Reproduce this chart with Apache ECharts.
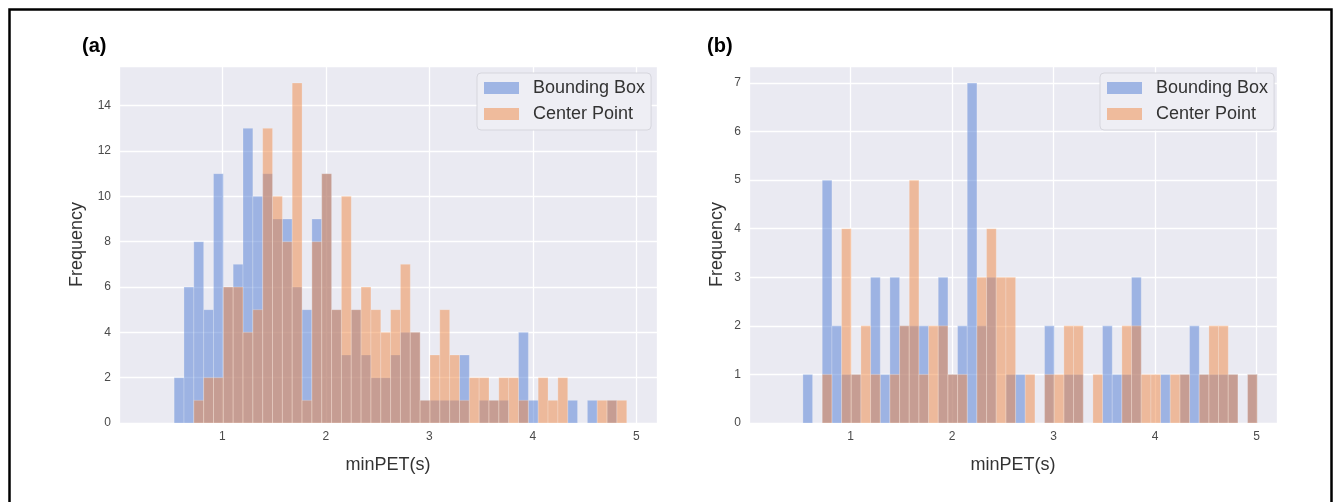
<!DOCTYPE html>
<html>
<head>
<meta charset="utf-8">
<script src="https://cdn.jsdelivr.net/npm/echarts@6/dist/echarts.min.js"></script>
<style>
html,body{margin:0;padding:0;background:#fff;}
#chart{width:1336px;height:502px;}
</style>
</head>
<body>
<div id="chart"></div>
<script>
// ---------- data ----------
const seriesNames = ['Bounding Box', 'Center Point'];
const xTickLabels = [1, 2, 3, 4, 5];
const yTicksA = [0, 2, 4, 6, 8, 10, 12, 14];
const yTicksB = [0, 1, 2, 3, 4, 5, 6, 7];

// panel (a) histogram: first bin edge, bin width (minPET seconds), counts per bin
const binStartA = 0.533;
const binWidthA = 0.0951;
const boundingBoxA = [2,6,8,5,11,6,7,13,10,11,9,9,6,5,9,11,5,3,5,3,2,2,3,4,4,1,1,1,1,3,0,1,1,1,0,4,1,0,0,0,1,0,1,0,1,0];
const centerPointA = [0,0,1,2,2,6,6,4,5,13,10,8,15,1,8,11,5,10,5,6,5,4,5,7,4,1,3,5,3,1,2,2,1,2,2,1,0,2,1,2,0,0,0,1,1,1];

// panel (b)
const binStartB = 0.531;
const binWidthB = 0.0952;
const boundingBoxB = [1,0,5,2,1,1,0,3,1,3,2,2,2,0,3,1,2,7,2,3,0,1,1,0,0,2,0,1,1,0,0,2,1,1,3,0,0,1,0,1,2,1,1,1,1,0,1];
const centerPointB = [0,0,1,0,4,1,2,1,0,1,2,5,1,2,2,1,1,0,3,4,3,3,0,1,0,1,1,2,2,0,1,0,0,2,2,1,1,0,1,1,0,1,2,2,1,0,1];

// ---------- helpers ----------
const BLUE = 'rgba(80,124,212,0.5)';
const ORANGE = 'rgba(240,136,68,0.5)';
const FONT = '"Liberation Sans", Arial, sans-serif';

function toBins(start, width, counts) {
  return counts.map((c, i) => [start + i * width, start + (i + 1) * width, c]);
}

function histSeries(name, idx, start, width, counts, color) {
  return {
    type: 'custom',
    name: name,
    xAxisIndex: idx,
    yAxisIndex: idx,
    itemStyle: { color: color },
    encode: { x: [0, 1], y: 2 },
    data: toBins(start, width, counts),
    renderItem: function (params, api) {
      const v = api.value(2);
      if (!v) return null;
      const p0 = api.coord([api.value(0), v]);
      const p1 = api.coord([api.value(1), 0]);
      return {
        type: 'rect',
        shape: { x: p0[0], y: p0[1], width: p1[0] - p0[0], height: p1[1] - p0[1] },
        style: { fill: color, stroke: 'rgba(255,255,255,0.35)', lineWidth: 0.6 }
      };
    }
  };
}

const tickFont = { color: '#4a4a4a', fontSize: 12, fontFamily: FONT };
const nameFont = { color: '#333', fontSize: 18, fontFamily: FONT };

function xAxis(idx) {
  return {
    type: 'value', gridIndex: idx, min: 0, max: 5.2, interval: 1,
    name: 'minPET(s)', nameLocation: 'middle', nameGap: 33, nameTextStyle: nameFont,
    axisLine: { show: false }, axisTick: { show: false },
    axisLabel: Object.assign({ margin: 8, formatter: v => xTickLabels.includes(v) ? String(v) : '' }, tickFont),
    splitLine: { show: true, lineStyle: { color: '#fff', width: 1.3 } }
  };
}
function yAxis(idx, max, interval, ticks, gap) {
  return {
    type: 'value', gridIndex: idx, min: 0, max: max, interval: interval,
    name: 'Frequency', nameLocation: 'middle', nameGap: gap, nameTextStyle: nameFont,
    axisLine: { show: false }, axisTick: { show: false },
    axisLabel: Object.assign({ margin: 8, formatter: v => ticks.includes(v) ? String(v) : '' }, tickFont),
    splitLine: { show: true, lineStyle: { color: '#fff', width: 1.3 } }
  };
}
function legend(left) {
  return {
    data: seriesNames, left: left, top: 73, orient: 'vertical',
    icon: 'rect', itemWidth: 35, itemHeight: 12, itemGap: 8,
    padding: [6, 6, 7, 7],
    backgroundColor: '#EEEEF4', borderColor: '#D6D6DD', borderWidth: 1, borderRadius: 4,
    selectedMode: false,
    textStyle: { color: '#333', fontSize: 18, lineHeight: 18, fontFamily: FONT, padding: [0, 0, 0, 9] }
  };
}

const chart = echarts.init(document.getElementById('chart'), null, { renderer: 'canvas' });
chart.setOption({
  animation: false,
  backgroundColor: '#fff',
  grid: [
    { left: 119, top: 66, width: 538, height: 357, show: true, backgroundColor: '#EAEAF2', borderWidth: 0 },
    { left: 749, top: 66, width: 528, height: 357, show: true, backgroundColor: '#EAEAF2', borderWidth: 0 }
  ],
  xAxis: [xAxis(0), xAxis(1)],
  yAxis: [yAxis(0, 15.75, 2, yTicksA, 33), yAxis(1, 7.35, 1, yTicksB, 23)],
  legend: [legend(477), legend(1100)],
  graphic: [
    { type: 'rect', left: 7, top: 7, shape: { width: 1322, height: 600 }, style: { fill: 'none', stroke: '#000', lineWidth: 2.5 }, silent: true },
    { type: 'text', left: 82, top: 36, style: { text: '(a)', font: 'bold 20px ' + FONT, fill: '#000' } },
    { type: 'text', left: 707, top: 36, style: { text: '(b)', font: 'bold 20px ' + FONT, fill: '#000' } }
  ],
  series: [
    histSeries(seriesNames[0], 0, binStartA, binWidthA, boundingBoxA, BLUE),
    histSeries(seriesNames[1], 0, binStartA, binWidthA, centerPointA, ORANGE),
    histSeries(seriesNames[0], 1, binStartB, binWidthB, boundingBoxB, BLUE),
    histSeries(seriesNames[1], 1, binStartB, binWidthB, centerPointB, ORANGE)
  ]
});
</script>
</body>
</html>
